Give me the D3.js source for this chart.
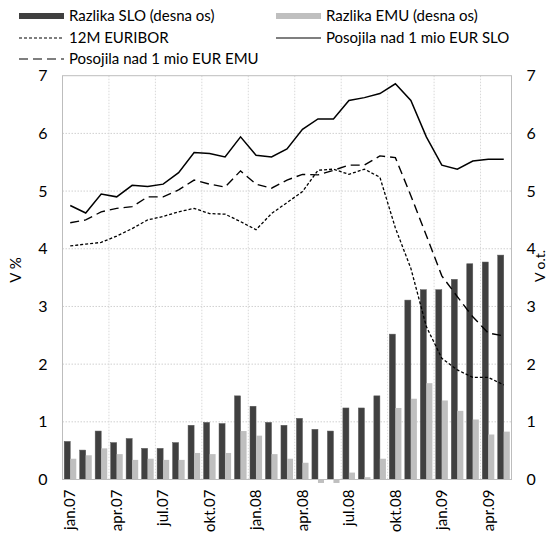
<!DOCTYPE html>
<html>
<head>
<meta charset="utf-8">
<script src="https://cdn.jsdelivr.net/npm/d3@7"></script>
<style>
  body { margin: 0; background: #fff; }
  svg text { font-family: Lato, "Open Sans", sans-serif; fill: #000; }
</style>
</head>
<body>
<script>
// mesece od jan.07 do maj.09
var months = ["jan.07","feb.07","mar.07","apr.07","maj.07","jun.07","jul.07","avg.07","sep.07","okt.07","nov.07","dec.07",
              "jan.08","feb.08","mar.08","apr.08","maj.08","jun.08","jul.08","avg.08","sep.08","okt.08","nov.08","dec.08",
              "jan.09","feb.09","mar.09","apr.09","maj.09"];
var tickMonths = ["jan.07","apr.07","jul.07","okt.07","jan.08","apr.08","jul.08","okt.08","jan.09","apr.09"];
var yTicks = [0,1,2,3,4,5,6,7];

// stolpci (desna os)
var razlikaSLO = [0.66,0.51,0.84,0.64,0.71,0.54,0.54,0.64,0.94,0.99,0.97,1.45,
                  1.27,0.99,0.94,1.06,0.87,0.84,1.24,1.24,1.45,2.52,3.11,3.29,
                  3.29,3.47,3.74,3.77,3.89];
var razlikaEMU = [0.36,0.42,0.54,0.44,0.34,0.36,0.34,0.34,0.46,0.44,0.46,0.84,
                  0.76,0.44,0.36,0.29,-0.06,-0.06,0.12,0.04,0.36,1.24,1.40,1.67,
                  1.37,1.19,1.04,0.78,0.83];
// crte (leva os)
var euribor12M = [4.05,4.08,4.11,4.22,4.35,4.50,4.56,4.64,4.70,4.61,4.60,4.47,
                  4.33,4.61,4.80,4.99,5.36,5.38,5.29,5.38,5.24,4.36,3.66,2.65,
                  2.10,1.90,1.77,1.77,1.64];
var posojilaSLO = [4.75,4.62,4.95,4.90,5.10,5.08,5.12,5.32,5.67,5.65,5.59,5.94,
                   5.62,5.59,5.73,6.07,6.25,6.25,6.57,6.62,6.69,6.86,6.57,5.94,
                   5.45,5.38,5.52,5.55,5.55];
var posojilaEMU = [4.45,4.50,4.64,4.70,4.73,4.90,4.90,5.02,5.19,5.12,5.07,5.35,
                   5.12,5.05,5.19,5.29,5.28,5.36,5.45,5.45,5.61,5.58,4.92,4.23,
                   3.53,3.17,2.82,2.54,2.49];

var W = 554, H = 541;
var pL = 62.5, pR = 511.5, pT = 75.7, pB = 479.5;
var darkCol = "#404040", lightCol = "#bfbfbf";

var svg = d3.select("body").append("svg")
    .attr("width", W).attr("height", H);

var x = d3.scaleBand().domain(months).range([pL, pR])
    .paddingInner(0.22).paddingOuter(0.11);
var xs = d3.scaleBand().domain(["slo","emu"]).range([0, x.bandwidth()]);
var y = d3.scaleLinear().domain([0, 7]).range([pB, pT]);   // leva os
var y2 = d3.scaleLinear().domain([0, 7]).range([pB, pT]);  // desna os
var cx = function (m) { return x(m) + x.bandwidth() / 2; };

//mreza
var grid = svg.append("g");
grid.selectAll(".hg").data(yTicks.slice(1, 7)).enter().append("line")
    .attr("x1", pL).attr("x2", pR)
    .attr("y1", function (d) { return y(d); }).attr("y2", function (d) { return y(d); })
    .attr("stroke", "#d0d0d0").attr("stroke-dasharray", "1.5,1.5");
grid.selectAll(".vg").data(tickMonths.slice(1)).enter().append("line")
    .attr("x1", function (d) { return x(d) - x.step() * x.paddingInner() / 2; })
    .attr("x2", function (d) { return x(d) - x.step() * x.paddingInner() / 2; })
    .attr("y1", pT).attr("y2", pB)
    .attr("stroke", "#d8d8d8").attr("stroke-dasharray", "1.5,1.5");

// stolpci
var groups = svg.append("g").selectAll("g").data(months).enter().append("g")
    .attr("transform", function (d) { return "translate(" + x(d) + ",0)"; });
groups.append("rect")
    .attr("x", xs("slo")).attr("width", xs.bandwidth())
    .attr("y", function (d, i) { return y2(Math.max(0, razlikaSLO[i])); })
    .attr("height", function (d, i) { return Math.abs(y2(razlikaSLO[i]) - y2(0)); })
    .attr("fill", darkCol).attr("stroke", "#5a5a5a").attr("stroke-width", 0.5);
groups.append("rect")
    .attr("x", xs("emu")).attr("width", xs.bandwidth())
    .attr("y", function (d, i) { return y2(Math.max(0, razlikaEMU[i])); })
    .attr("height", function (d, i) { return Math.abs(y2(razlikaEMU[i]) - y2(0)); })
    .attr("fill", lightCol);

// okvir
svg.append("rect")
    .attr("x", pL).attr("y", pT).attr("width", pR - pL).attr("height", pB - pT)
    .attr("fill", "none").attr("stroke", "#bdbdbd").attr("stroke-width", 1);

// crte
var line = d3.line()
    .x(function (d, i) { return cx(months[i]); })
    .y(function (d) { return y(d); });
var series = [
  { v: euribor12M, dash: "3,2", w: 1.3 },
  { v: posojilaEMU, dash: "9,5", w: 1.4 },
  { v: posojilaSLO, dash: null, w: 1.5 }
];
svg.selectAll(".ln").data(series).enter().append("path")
    .attr("d", function (s) { return line(s.v); })
    .attr("fill", "none").attr("stroke", "#000")
    .attr("stroke-width", function (s) { return s.w; })
    .attr("stroke-dasharray", function (s) { return s.dash; });

// osi
var yAxisL = svg.append("g").attr("transform", "translate(" + pL + ",0)")
    .call(d3.axisLeft(y).tickValues(yTicks).tickSize(0).tickPadding(15).tickFormat(d3.format("d")));
var yAxisR = svg.append("g").attr("transform", "translate(" + pR + ",0)")
    .call(d3.axisRight(y2).tickValues(yTicks).tickSize(0).tickPadding(15).tickFormat(d3.format("d")));
[yAxisL, yAxisR].forEach(function (a) {
  a.select(".domain").remove();
  a.selectAll("text").style("font-size", "16px").style("font-family", "Lato, sans-serif");
});

var xAxis = svg.append("g").attr("transform", "translate(0," + pB + ")")
    .call(d3.axisBottom(x).tickValues(tickMonths).tickSize(0));
xAxis.select(".domain").remove();
xAxis.selectAll("text")
    .style("font-size", "15px").style("font-family", "Lato, sans-serif")
    .attr("text-anchor", "end")
    .attr("transform", "rotate(-90)")
    .attr("x", -10).attr("y", 0).attr("dy", "0.35em");

svg.append("text").attr("transform", "translate(16,270) rotate(-90)")
    .attr("text-anchor", "middle").attr("dy", "0.35em").style("font-size", "15px").text("V %");
svg.append("text").attr("transform", "translate(540,266) rotate(-90)")
    .attr("text-anchor", "middle").attr("dy", "0.35em").style("font-size", "14px").text("V o.t.");

// legenda
var legend = [
  { t: "Razlika SLO (desna os)", type: "bar", c: darkCol, lx: 19, ly: 16 },
  { t: "Razlika EMU (desna os)", type: "bar", c: lightCol, lx: 276, ly: 16 },
  { t: "12M EURIBOR", type: "line", dash: "3,2", lx: 19, ly: 38 },
  { t: "Posojila nad 1 mio EUR SLO", type: "line", dash: null, lx: 276, ly: 38 },
  { t: "Posojila nad 1 mio EUR EMU", type: "line", dash: "9,5", lx: 19, ly: 59 }
];
var lg = svg.append("g").selectAll("g").data(legend).enter().append("g")
    .attr("transform", function (d) { return "translate(" + d.lx + "," + d.ly + ")"; });
lg.filter(function (d) { return d.type == "bar"; }).append("rect")
    .attr("x", 0).attr("y", -3).attr("width", 45).attr("height", 6)
    .attr("fill", function (d) { return d.c; });
lg.filter(function (d) { return d.type == "line"; }).append("line")
    .attr("x1", 0).attr("x2", 45).attr("y1", 0).attr("y2", 0)
    .attr("stroke", "#000").attr("stroke-width", 1.2)
    .attr("stroke-dasharray", function (d) { return d.dash; });
lg.append("text").attr("x", 50).attr("dy", "0.35em")
    .style("font-size", "15px").text(function (d) { return d.t; });
</script>
</body>
</html>
